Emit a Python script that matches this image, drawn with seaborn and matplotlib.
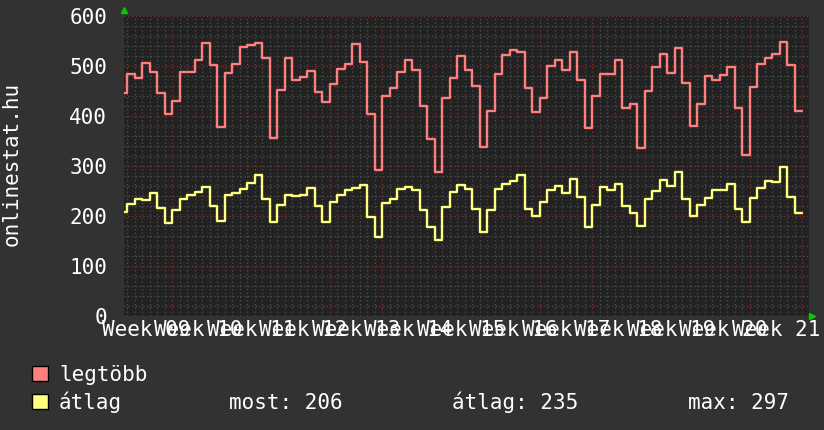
import numpy as np
import pandas as pd
import matplotlib
matplotlib.use("Agg")
import matplotlib.pyplot as plt
from matplotlib.patches import Rectangle
from matplotlib.ticker import MultipleLocator
import seaborn as sns

# daily values, one per day (day 0 is a partial day at the left edge)
legtobb = [445, 484, 476, 505, 488, 445, 403, 429, 488, 488, 511, 545, 502, 377,
           485, 503, 537, 541, 545, 515, 355, 452, 515, 472, 478, 490, 448, 427,
           463, 494, 503, 543, 508, 403, 292, 440, 455, 487, 511, 491, 419, 353,
           287, 436, 476, 520, 492, 459, 337, 409, 483, 521, 531, 527, 455, 407,
           435, 499, 511, 491, 528, 471, 376, 440, 483, 483, 512, 415, 424, 336,
           450, 497, 524, 485, 535, 465, 380, 424, 479, 472, 481, 497, 416, 322,
           458, 503, 515, 523, 547, 501, 409]
atlag = [207, 224, 234, 231, 246, 215, 185, 212, 233, 241, 247, 257, 219, 190,
         241, 246, 254, 265, 282, 234, 187, 221, 242, 239, 241, 256, 219, 188,
         228, 241, 252, 255, 262, 198, 158, 225, 233, 253, 257, 251, 211, 178,
         151, 217, 247, 261, 253, 214, 167, 211, 254, 263, 269, 281, 213, 199,
         227, 251, 259, 245, 274, 237, 178, 221, 257, 252, 264, 219, 205, 179,
         234, 250, 272, 259, 287, 234, 199, 221, 236, 252, 251, 264, 214, 187,
         236, 255, 270, 267, 297, 237, 206]
week_labels = ["Week 09", "Week 10", "Week 11", "Week 12", "Week 13", "Week 14",
               "Week 15", "Week 16", "Week 17", "Week 18", "Week 19", "Week 20",
               "Week 21"]
stats = ["most: 206", "átlag: 235", "max: 297"]

RED = "#ff7f7f"
YELLOW = "#ffff80"
TXT = "#ffffff"

sns.set_style("dark", {"axes.facecolor": "#222222", "figure.facecolor": "#323232"})
plt.rcParams["font.family"] = ["DejaVu Sans Mono", "DejaVu Sans"]

# repeat the last value so the final step gets drawn to the day's end
n = len(legtobb)
df = pd.DataFrame({
    "nap": np.arange(n + 1),
    "legtöbb": legtobb + [legtobb[-1]],
    "átlag": atlag + [atlag[-1]],
})

W, H = 824, 430
fig = plt.figure(figsize=(W / 100, H / 100), dpi=100)
ax = fig.add_axes([124.5 / W, (H - 315.5) / H, 684.5 / W, 299.5 / H])

sns.lineplot(data=df, x="nap", y="legtöbb", drawstyle="steps-post", color=RED,
             lw=1.7, estimator=None, ax=ax)
sns.lineplot(data=df, x="nap", y="átlag", drawstyle="steps-post", color=YELLOW,
             lw=1.7, estimator=None, ax=ax)

ax.set_xlim(0.63, 91.9)
ax.set_ylim(0, 600)
ax.xaxis.set_major_locator(MultipleLocator(7))
ax.xaxis.set_minor_locator(MultipleLocator(1))
ax.yaxis.set_major_locator(MultipleLocator(100))
ax.yaxis.set_minor_locator(MultipleLocator(20))
ax.set_axisbelow(True)
ax.grid(which="minor", color="#505050", ls=(0, (1, 2)), lw=0.9)
ax.grid(which="major", color="#803434", ls=(0, (1, 2)), lw=0.9)
ax.tick_params(axis="both", which="both", length=0)
ax.tick_params(axis="x", labelbottom=False)
ax.tick_params(axis="y", labelsize=15, labelcolor=TXT, pad=12.5)
ax.set_xlabel("")
ax.set_ylabel("")
for s in ax.spines.values():
    s.set_visible(False)

# week labels centred on each week
secax = ax.secondary_xaxis("bottom")
secax.set_xticks([3.5 + 7 * i for i in range(len(week_labels))], week_labels)
secax.tick_params(length=0, labelsize=15, labelcolor=TXT, pad=3)
secax.spines["bottom"].set_visible(False)

# little green arrows at the axis ends
ax.plot([0], [1.02], marker="^", color="#00cc00", ms=4, transform=ax.transAxes,
        clip_on=False)
ax.plot([1.004], [0], marker=">", color="#00cc00", ms=4, transform=ax.transAxes,
        clip_on=False)

fig.text(12 / W, (H - 164) / H, "onlinestat.hu", rotation=90, ha="center",
         va="center", fontsize=15, color=TXT)

# legend rows
for col, label, base in [(RED, "legtöbb", 381), (YELLOW, "átlag", 409)]:
    fig.add_artist(Rectangle((32 / W, (H - base) / H), 16 / W, 15 / H,
                             transform=fig.transFigure, facecolor=col,
                             edgecolor="#000000", lw=1))
    fig.text(59 / W, (H - base) / H, label, fontsize=15, color=TXT, va="baseline")
for txt, x in zip(stats, [229, 452, 688]):
    fig.text(x / W, (H - 409) / H, txt, fontsize=15, color=TXT, va="baseline")

fig.savefig("out.png", dpi=100, facecolor=fig.get_facecolor())
